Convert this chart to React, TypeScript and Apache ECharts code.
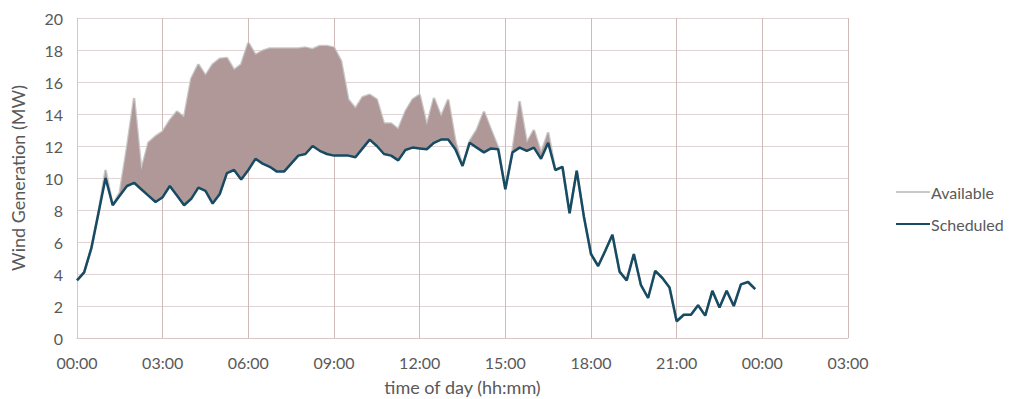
import React, { useEffect, useRef } from "react";
import * as echarts from "echarts";

// 15-minute intervals starting at 00:00
const scheduled = [
  3.6, 4.1, 5.6, 7.8, 10.0, 8.3, 8.9, 9.5, 9.7, 9.3, 8.9, 8.5,
  8.8, 9.5, 8.9, 8.3, 8.7, 9.4, 9.2, 8.4, 9.0, 10.3, 10.5, 9.9,
  10.5, 11.2, 10.9, 10.7, 10.4, 10.4, 10.9, 11.4, 11.5, 12.0, 11.7, 11.5,
  11.4, 11.4, 11.4, 11.3, 11.85, 12.4, 12.0, 11.5, 11.4, 11.1, 11.75, 11.9,
  11.85, 11.8, 12.2, 12.4, 12.4, 11.8, 10.75, 12.2, 11.9, 11.6, 11.85, 11.8,
  9.3, 11.6, 11.9, 11.7, 11.9, 11.2, 12.2, 10.5, 10.7, 7.8, 10.45, 7.6,
  5.25, 4.5, 5.45, 6.45, 4.15, 3.6, 5.25, 3.3, 2.5, 4.2, 3.75, 3.15,
  1.05, 1.45, 1.45, 2.05, 1.4, 2.95, 1.9, 2.95, 2.0, 3.35, 3.5, 3.05,
];

const available = [
  3.6, 4.1, 5.6, 7.8, 10.5, 8.3, 9.1, 11.9, 15.0, 10.5, 12.2, 12.6,
  12.9, 13.6, 14.15, 13.8, 16.2, 17.1, 16.4, 17.1, 17.45, 17.5, 16.75, 17.1,
  18.45, 17.7, 17.95, 18.1, 18.1, 18.1, 18.1, 18.1, 18.15, 18.05, 18.25, 18.25,
  18.15, 17.3, 14.9, 14.35, 15.05, 15.2, 14.9, 13.4, 13.4, 13.05, 14.15, 14.9,
  15.2, 13.3, 15.0, 13.85, 14.9, 12.3, 10.75, 12.3, 13.0, 14.15, 13.0, 11.9,
  9.3, 11.7, 14.8, 12.2, 13.0, 11.55, 12.85, 10.5, 10.7, 7.8, 10.45, 7.6,
  5.25, 4.5, 5.45, 6.45, 4.15, 3.6, 5.25, 3.3, 2.5, 4.2, 3.75, 3.15,
  1.05, 1.45, 1.45, 2.05, 1.4, 2.95, 1.9, 2.95, 2.0, 3.35, 3.5, 3.05,
];

// axis spans 27 hours (00:00 to 03:00 next day) in 15-minute slots
const SLOTS = 27 * 4 + 1;
const timeCategories = Array.from({ length: SLOTS }, (_, i) => {
  const h = Math.floor(i / 4) % 24;
  const m = (i % 4) * 15;
  return `${String(h).padStart(2, "0")}:${String(m).padStart(2, "0")}`;
});
const yTicks = [0, 2, 4, 6, 8, 10, 12, 14, 16, 18, 20];

const FONT = "Lato";
const LABEL = "#595959";

export default function App() {
  const ref = useRef<HTMLDivElement>(null);

  useEffect(() => {
    if (!ref.current) return;
    const chart = echarts.init(ref.current, null, { renderer: "svg" });
    const diff = available.map((v, i) => Math.max(0, v - scheduled[i]));

    chart.setOption({
      animation: false,
      backgroundColor: "#ffffff",
      textStyle: { fontFamily: FONT },
      grid: {
        left: 77,
        right: 162,
        top: 18,
        bottom: 61,
        containLabel: false,
        outerBoundsMode: "none",
      },
      legend: {
        orient: "vertical",
        left: 891,
        top: 179,
        itemGap: 16,
        itemWidth: 34,
        itemHeight: 2,
        icon: "rect",
        data: ["Available", "Scheduled"],
        textStyle: { color: LABEL, fontSize: 16, fontFamily: FONT, padding: [0, 0, 0, -4] },
      },
      xAxis: {
        type: "category",
        boundaryGap: false,
        data: timeCategories,
        name: "time of day (hh:mm)",
        nameLocation: "middle",
        nameGap: 40,
        nameTextStyle: { color: LABEL, fontSize: 18, fontFamily: FONT },
        axisLine: { show: true, lineStyle: { color: "#d9c5c5", width: 1 } },
        axisTick: { show: false },
        axisLabel: {
          color: LABEL,
          fontSize: 16,
          fontFamily: FONT,
          margin: 16,
          interval: 11,
          showMaxLabel: true,
        },
        splitLine: { show: true, interval: 11, lineStyle: { color: "#cfb9b9", width: 1 } },
      },
      yAxis: {
        type: "value",
        min: yTicks[0],
        max: yTicks[yTicks.length - 1],
        interval: 2,
        name: "Wind Generation (MW)",
        nameLocation: "middle",
        nameGap: 50,
        nameTextStyle: { color: LABEL, fontSize: 18, fontFamily: FONT },
        axisLine: { show: true, lineStyle: { color: "#d9c5c5", width: 1 } },
        axisTick: { show: false },
        axisLabel: { color: LABEL, fontSize: 16, fontFamily: FONT, margin: 14 },
        splitLine: { show: true, lineStyle: { color: "#e2d4d4", width: 1 } },
      },
      series: [
        {
          name: "base",
          type: "line",
          stack: "gap",
          data: scheduled,
          symbol: "none",
          lineStyle: { width: 0, opacity: 0 },
          areaStyle: { opacity: 0 },
          silent: true,
          z: 1,
        },
        {
          name: "Available",
          type: "line",
          data: available,
          symbol: "none",
          lineStyle: { color: "#c9c9c9", width: 2.5 },
          itemStyle: { color: "#c9c9c9" },
          z: 2,
        },
        {
          name: "gap",
          type: "line",
          stack: "gap",
          data: diff,
          symbol: "none",
          lineStyle: { width: 0, opacity: 0 },
          areaStyle: { color: "#b09898", opacity: 1 },
          silent: true,
          z: 3,
        },
        {
          name: "Scheduled",
          type: "line",
          data: scheduled,
          symbol: "none",
          lineStyle: { color: "#174b63", width: 2.5 },
          itemStyle: { color: "#174b63" },
          z: 4,
        },
      ],
    });
    return () => chart.dispose();
  }, []);

  return (
    <div
      ref={ref}
      style={{ position: "fixed", left: 0, top: 0, width: 1010, height: 399, background: "#fff" }}
    />
  );
}
